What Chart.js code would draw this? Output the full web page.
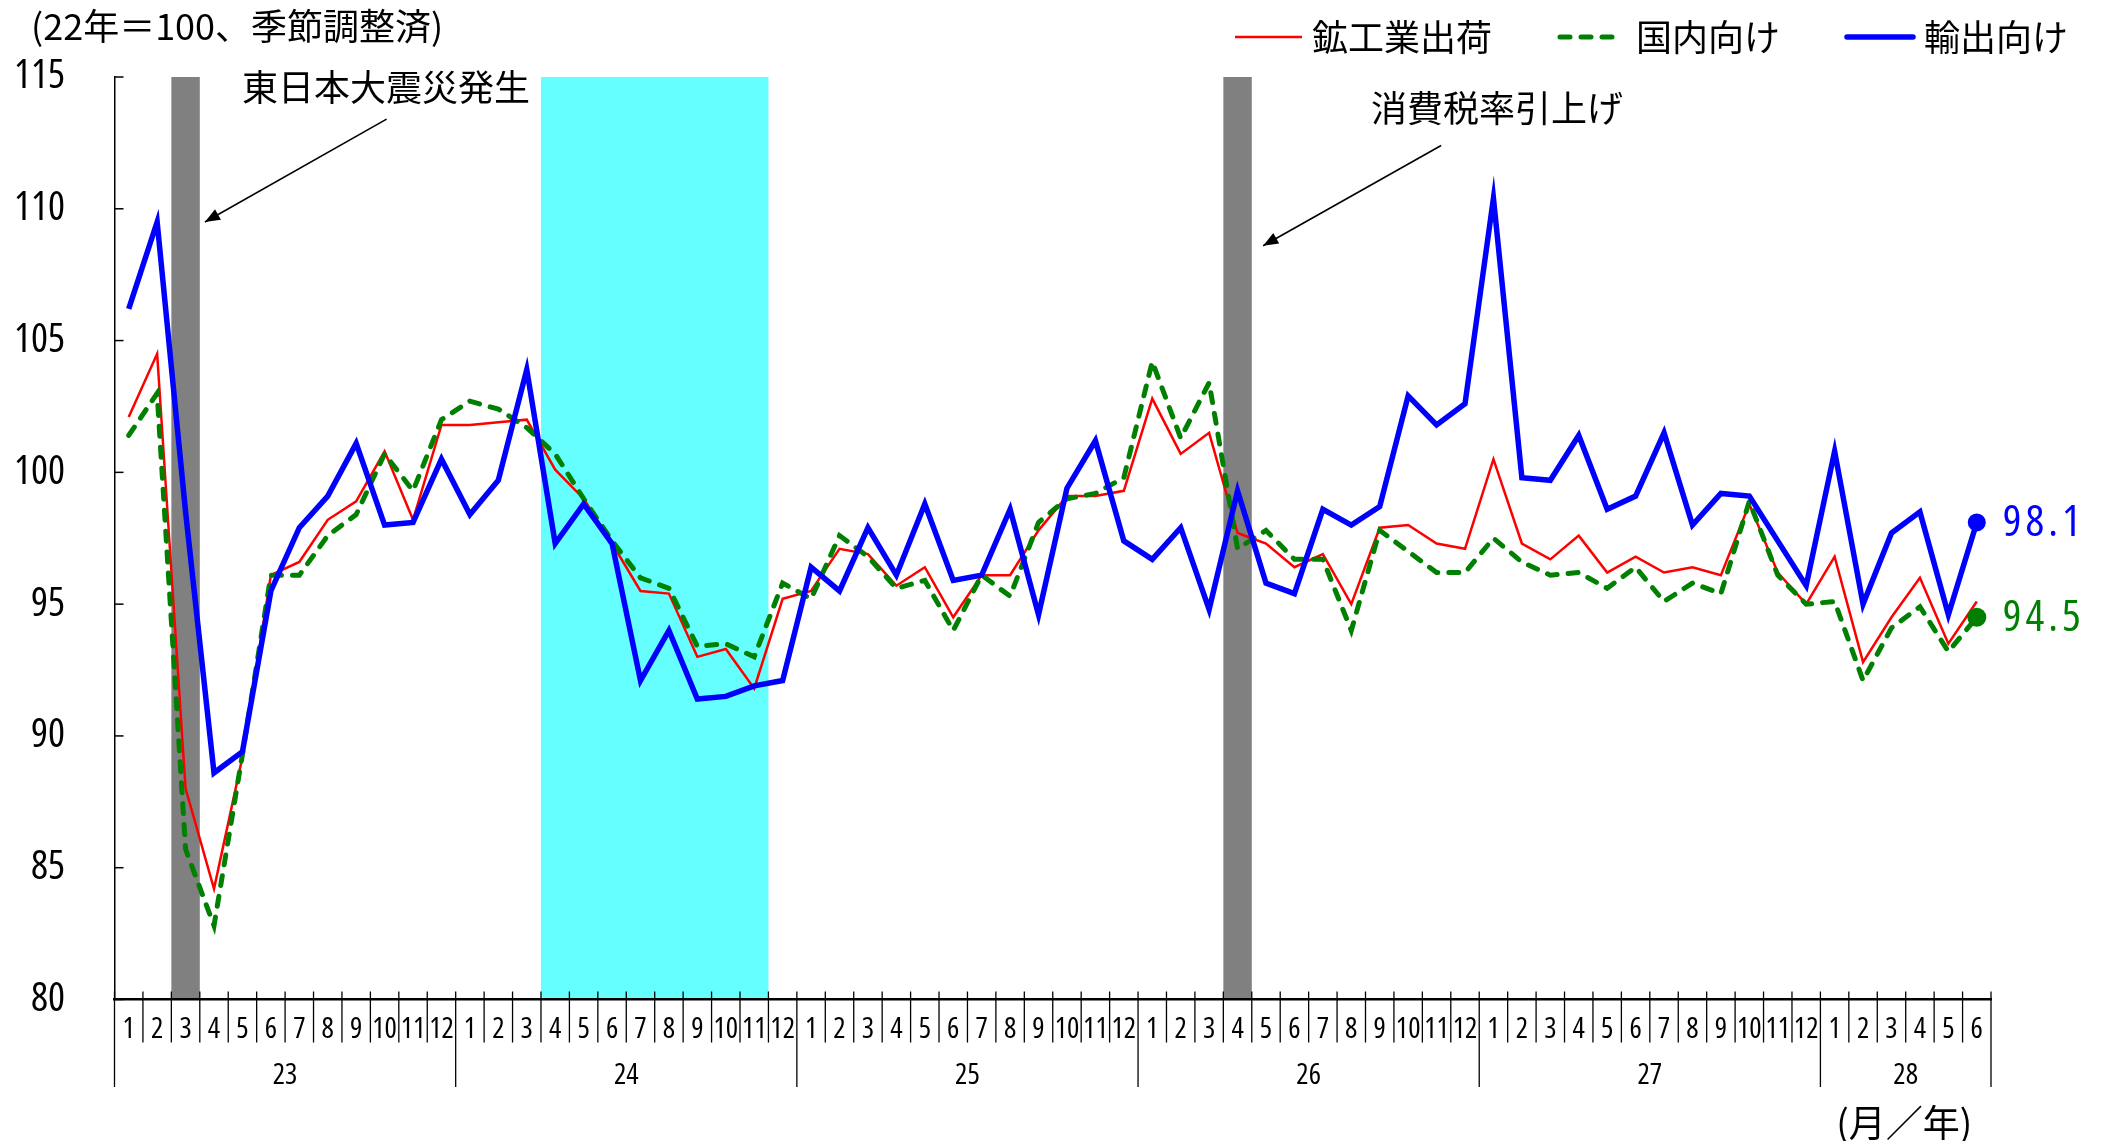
<!DOCTYPE html>
<html><head><meta charset="utf-8">
<script src="https://cdn.jsdelivr.net/npm/chart.js@4"></script>
<style>html,body{margin:0;padding:0;background:#fff;}#c{display:block;}</style>
</head><body>
<canvas id="c" width="2112" height="1141"></canvas>
<script>
// ---- categories ----
const monthLabels = [
  '1','2','3','4','5','6','7','8','9','10','11','12',
  '1','2','3','4','5','6','7','8','9','10','11','12',
  '1','2','3','4','5','6','7','8','9','10','11','12',
  '1','2','3','4','5','6','7','8','9','10','11','12',
  '1','2','3','4','5','6','7','8','9','10','11','12',
  '1','2','3','4','5','6'
];
const yearLabels = ['23','24','25','26','27','28'];
const monthsPerYear = [12,12,12,12,12,6];

// ---- series (22年=100, seasonally adjusted) ----
const shipments = [
  102.1,104.5,88.0,84.2,89.2,96.1,96.6,98.2,98.9,100.8,98.2,101.8,
  101.8,101.9,102.0,100.1,99.0,97.3,95.5,95.4,93.0,93.3,91.8,95.2,
  95.5,97.1,96.9,95.7,96.4,94.5,96.1,96.1,97.8,99.1,99.1,99.3,
  102.8,100.7,101.5,97.7,97.3,96.4,96.9,95.0,97.9,98.0,97.3,97.1,
  100.5,97.3,96.7,97.6,96.2,96.8,96.2,96.4,96.1,98.8,96.2,95.0,
  96.8,92.8,94.5,96.0,93.5,95.1
];
const domestic = [
  101.4,103.0,85.7,82.8,89.3,96.1,96.1,97.6,98.4,100.7,99.3,102.0,
  102.7,102.4,101.7,100.7,99.0,97.4,96.0,95.6,93.4,93.5,93.0,95.8,
  95.2,97.6,96.8,95.6,95.9,94.0,96.1,95.3,98.1,99.0,99.2,99.8,
  104.2,101.3,103.4,97.1,97.8,96.7,96.7,94.0,97.8,97.0,96.2,96.2,
  97.5,96.6,96.1,96.2,95.6,96.4,95.1,95.8,95.4,98.9,96.1,95.0,
  95.1,92.1,94.1,94.9,93.2,94.5
];
const exportsIdx = [
  106.2,109.5,98.5,88.6,89.4,95.5,97.9,99.1,101.1,98.0,98.1,100.5,
  98.4,99.7,103.9,97.3,98.8,97.3,92.1,94.0,91.4,91.5,91.9,92.1,
  96.4,95.5,97.9,96.1,98.8,95.9,96.1,98.6,94.6,99.4,101.2,97.4,
  96.7,97.9,94.8,99.3,95.8,95.4,98.6,98.0,98.7,102.9,101.8,102.6,
  110.4,99.8,99.7,101.4,98.6,99.1,101.5,98.0,99.2,99.1,97.4,95.7,
  100.8,95.0,97.7,98.5,94.6,98.1
];
const seriesNames = ['鉱工業出荷','国内向け','輸出向け'];
const yTicks = {min:80, max:115, step:5};

// shaded periods (category indices)
const earthquakeMonth = 2;     // 23年3月
const taxHikeMonth = 39;       // 26年4月
const cyanFrom = 15, cyanTo = 22; // 24年4月～24年11月

// pick a narrow font for numbers
function pickNarrow() {
  const c = document.createElement('canvas').getContext('2d');
  const fams = ["'Noto Sans'", "'Open Sans'", "Roboto", "Inter"];
  for (const f of fams) {
    c.font = `40px ${f}`; const wn = c.measureText('1150').width;
    c.font = `400 condensed 40px ${f}`; const wc = c.measureText('1150').width;
    if (wc < wn * 0.88) return {family: f, weight: '400 condensed'};
  }
  return {family: "'DejaVu Sans Condensed','Liberation Sans Narrow',sans-serif", weight: '400'};
}
const NUM = pickNarrow();
const numFont = (size) => `${NUM.weight} ${size}px ${NUM.family}`;
const FONT_JP = "'Noto Sans CJK JP','Noto Sans CJK SC',sans-serif";
const RED = '#FF0000', GREEN = '#008000', BLUE = '#0000FF';
const last = monthLabels.length - 1;

function catEdges(chart, i) {
  const xs = chart.scales.x;
  const w = xs.getPixelForValue(1) - xs.getPixelForValue(0);
  const c = xs.getPixelForValue(i);
  return [c - w/2, c + w/2, w];
}

const bandsPlugin = {
  id: 'bands',
  beforeDraw(chart) {
    const ctx = chart.ctx, ca = chart.chartArea;
    ctx.save();
    let a = catEdges(chart, cyanFrom), b = catEdges(chart, cyanTo);
    ctx.fillStyle = '#66FFFF';
    ctx.fillRect(a[0], ca.top, b[1]-a[0], ca.bottom-ca.top);
    ctx.fillStyle = '#808080';
    for (const m of [earthquakeMonth, taxHikeMonth]) {
      const e = catEdges(chart, m);
      ctx.fillRect(e[0], ca.top, e[1]-e[0], ca.bottom-ca.top);
    }
    ctx.restore();
  }
};

function arrow(ctx, x1, y1, x2, y2) {
  ctx.beginPath(); ctx.moveTo(x1, y1); ctx.lineTo(x2, y2); ctx.stroke();
  const ang = Math.atan2(y2-y1, x2-x1), L = 15, W = 6;
  ctx.beginPath();
  ctx.moveTo(x2, y2);
  ctx.lineTo(x2 - L*Math.cos(ang) + W*Math.sin(ang), y2 - L*Math.sin(ang) - W*Math.cos(ang));
  ctx.lineTo(x2 - L*Math.cos(ang) - W*Math.sin(ang), y2 - L*Math.sin(ang) + W*Math.cos(ang));
  ctx.closePath(); ctx.fill();
}

const decorPlugin = {
  id: 'decor',
  afterDraw(chart) {
    const ctx = chart.ctx, ca = chart.chartArea, xs = chart.scales.x, ys = chart.scales.y;
    const w = catEdges(chart, 0)[2];
    const xAt = (idx) => xs.getPixelForValue(0) + idx * w;
    ctx.save();
    ctx.strokeStyle = '#000'; ctx.fillStyle = '#000';
    // inward y ticks
    ctx.lineWidth = 1.5;
    for (const t of ys.ticks) {
      const y = ys.getPixelForValue(t.value);
      ctx.beginPath(); ctx.moveTo(ca.left, y); ctx.lineTo(ca.left + 9, y); ctx.stroke();
    }
    // x separators
    const yearBounds = [0];
    monthsPerYear.forEach(n => yearBounds.push(yearBounds[yearBounds.length-1] + n));
    ctx.lineWidth = 1.3;
    for (let i = 0; i <= monthLabels.length; i++) {
      const x = (i < monthLabels.length ? catEdges(chart, i)[0] : catEdges(chart, last)[1]);
      const isYear = yearBounds.includes(i);
      ctx.beginPath();
      ctx.moveTo(x, ca.bottom - 8);
      ctx.lineTo(x, ca.bottom + (isYear ? 87.5 : 43));
      ctx.stroke();
    }
    // year labels
    ctx.font = numFont(29); ctx.textAlign = 'center'; ctx.textBaseline = 'middle';
    yearLabels.forEach((yl, k) => {
      const s = yearBounds[k], e = yearBounds[k+1] - 1;
      const cx = (xs.getPixelForValue(s) + xs.getPixelForValue(e)) / 2;
      ctx.fillText(yl, cx, ca.bottom + 76);
    });
    // axis unit
    ctx.font = `37px ${FONT_JP}`;
    ctx.fillText('(月／年)', xAt(62.45), ca.bottom + 123);
    // title
    ctx.textAlign = 'left';
    ctx.font = `36px ${FONT_JP}`;
    ctx.fillText('(22年＝100、季節調整済)', 31, 26);
    // annotations
    ctx.fillText('東日本大震災発生', 242, 87);
    ctx.fillText('消費税率引上げ', 1371, 108);
    ctx.lineWidth = 1.6;
    arrow(ctx, xAt(9.07), ys.getPixelForValue(113.4), xAt(2.68), ys.getPixelForValue(109.5));
    arrow(ctx, xAt(46.16), ys.getPixelForValue(112.4), xAt(39.9), ys.getPixelForValue(108.6));
    // legend
    const ly = 37;
    ctx.font = `36px ${FONT_JP}`;
    ctx.lineCap = 'butt';
    ctx.strokeStyle = RED; ctx.lineWidth = 2.5;
    ctx.beginPath(); ctx.moveTo(1235, ly); ctx.lineTo(1302, ly); ctx.stroke();
    ctx.fillStyle = '#000'; ctx.fillText(seriesNames[0], 1312, ly);
    ctx.strokeStyle = GREEN; ctx.lineWidth = 5; ctx.lineCap = 'round'; ctx.setLineDash([10, 11]);
    ctx.beginPath(); ctx.moveTo(1560, ly); ctx.lineTo(1618, ly); ctx.stroke();
    ctx.setLineDash([]);
    ctx.fillText(seriesNames[1], 1636, ly);
    ctx.strokeStyle = BLUE; ctx.lineWidth = 5.5;
    ctx.beginPath(); ctx.moveTo(1847, ly); ctx.lineTo(1913, ly); ctx.stroke();
    ctx.fillText(seriesNames[2], 1924, ly);
    // end labels
    ctx.font = numFont(44);
    try { ctx.letterSpacing = '4px'; } catch(e) {}
    const lx = xs.getPixelForValue(last) + 26;
    ctx.fillStyle = BLUE;
    ctx.fillText(exportsIdx[last].toFixed(1), lx, ys.getPixelForValue(exportsIdx[last]) + 1);
    ctx.fillStyle = GREEN;
    ctx.fillText(domestic[last].toFixed(1), lx, ys.getPixelForValue(domestic[last]) + 1);
    ctx.restore();
  }
};

const endDot = (r) => (c) => c.dataIndex === last ? r : 0;

new Chart(document.getElementById('c').getContext('2d'), {
  type: 'line',
  data: {
    labels: monthLabels,
    datasets: [
      {label: seriesNames[0], data: shipments, borderColor: RED, borderWidth: 2.5,
       pointRadius: 0, order: 2},
      {label: seriesNames[1], data: domestic, borderColor: GREEN, borderWidth: 5,
       borderDash: [10, 11], borderCapStyle: 'round',
       pointRadius: endDot(9.5), pointBackgroundColor: GREEN, pointBorderColor: GREEN, pointBorderWidth: 0, order: 1},
      {label: seriesNames[2], data: exportsIdx, borderColor: BLUE, borderWidth: 5.5,
       pointRadius: endDot(9), pointBackgroundColor: BLUE, pointBorderColor: BLUE, pointBorderWidth: 0, order: 0}
    ]
  },
  options: {
    responsive: false, animation: false, devicePixelRatio: 1,
    layout: {padding: {left: 0, top: 77, right: 121, bottom: 0}},
    elements: {line: {tension: 0, fill: false}},
    plugins: {legend: {display: false}, tooltip: {enabled: false}},
    scales: {
      x: {
        type: 'category', offset: true,
        grid: {display: true, drawOnChartArea: false, drawTicks: false},
        border: {display: true, color: '#000', width: 2.5},
        ticks: {autoSkip: false, maxRotation: 0, minRotation: 0, color: '#000',
                font: {family: NUM.family, weight: NUM.weight, size: 29}, padding: 13},
        afterFit(s) { s.height = 141.5; }
      },
      y: {
        min: yTicks.min, max: yTicks.max,
        ticks: {stepSize: yTicks.step, color: '#000', font: {family: NUM.family, weight: NUM.weight, size: 40}, padding: 49.5},
        grid: {display: true, drawOnChartArea: false, drawTicks: false},
        border: {display: true, color: '#000', width: 1.5},
        afterFit(s) { s.width = 114.5; }
      }
    }
  },
  plugins: [bandsPlugin, decorPlugin]
});
</script>
</body></html>
